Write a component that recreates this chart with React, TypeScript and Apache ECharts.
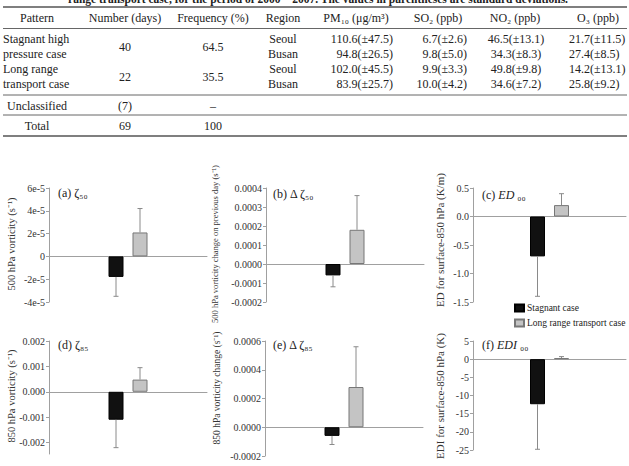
import React, { useEffect, useRef } from "react";
import * as echarts from "echarts";

const FONT = "'Liberation Serif', 'Times New Roman', serif";

const caption =
  "range transport case, for the period of 2000 ~ 2007. The values in parentheses are standard deviations.";
const tableHeaders = ["Pattern", "Number (days)", "Frequency (%)", "Region", "PM₁₀ (μg/m³)", "SO₂ (ppb)", "NO₂ (ppb)", "O₃ (ppb)"];
const patternLines = ["Stagnant high", "pressure case", "Long range", "transport case"];
const extraPatterns = ["Unclassified", "Total"];
const dayCounts = ["40", "22", "(7)", "69"];
const frequencies = ["64.5", "35.5", "–", "100"];
const regions = ["Seoul", "Busan", "Seoul", "Busan"];
const pm10Values = ["110.6(±47.5)", "94.8(±26.5)", "102.0(±45.5)", "83.9(±25.7)"];
const so2Values = ["6.7(±2.6)", "9.8(±5.0)", "9.9(±3.3)", "10.0(±4.2)"];
const no2Values = ["46.5(±13.1)", "34.3(±8.3)", "49.8(±9.8)", "34.6(±7.2)"];
const o3Values = ["21.7(±11.5)", "27.4(±8.5)", "14.2(±13.1)", "25.8(±9.2)"];

const seriesNames = ["Stagnant case", "Long range transport case"];
const panelTitles = ["(a) ζ₅₀", "(b) Δ ζ₅₀", "(c) {i|ED}{n| ₀₀}", "(d) ζ₈₅", "(e) Δ ζ₈₅", "(f) {i|EDI}{n| ₀₀}"];
const yAxisNames = [
  "500 hPa vorticity (s⁻¹)",
  "500 hPa vorticity change on previous day (s⁻¹)",
  "ED for surface-850 hPa (K/m)",
  "850 hPa vorticity (s⁻¹)",
  "850 hPa vorticity change (s⁻¹)",
  "EDI for surface-850 hPa (K)",
];
const stagnantMeans = [-1.8e-5, -0.00006, -0.7, -0.0011, -0.00006, -12.4];
const stagnantSds = [1.7e-5, 0.00006, 0.7, 0.0011, 0.00006, 12.4];
const transportMeans = [2.1e-5, 0.00018, 0.2, 0.00048, 0.00028, 0.3];
const transportSds = [2.1e-5, 0.00018, 0.2, 0.00047, 0.00028, 0.4];
const tickValuesA = [-4e-5, -2e-5, 0, 2e-5, 4e-5, 6e-5];
const tickValuesB = [-0.0002, -0.0001, 0, 0.0001, 0.0002, 0.0003, 0.0004];
const tickValuesC = [-1.5, -1.0, -0.5, 0, 0.5];
const tickValuesD = [-0.002, -0.001, 0, 0.001, 0.002];
const tickValuesE = [-0.0002, 0, 0.0002, 0.0004, 0.0006];
const tickValuesF = [-25, -20, -15, -10, -5, 0, 5];
const axisMins = [-4e-5, -0.0002, -1.5, -0.00245, -0.0002, -25];
const axisMaxs = [6e-5, 0.0004, 0.5, 0.002, 0.0006, 5];
const tickDecimals = [-1, 4, 1, 3, 4, 0];

const allTicks = [tickValuesA, tickValuesB, tickValuesC, tickValuesD, tickValuesE, tickValuesF];

function fmt(v: number, d: number): string {
  if (d < 0) {
    if (Math.abs(v) < 1e-12) return "0";
    return `${Math.round(v * 1e5)}e-5`;
  }
  return v.toFixed(d);
}

export default function App() {
  const ref = useRef<HTMLDivElement>(null);
  useEffect(() => {
    if (!ref.current) return;
    const chart = echarts.init(ref.current, undefined, { renderer: "svg" });

    const grids = [
      { left: 49, top: 188, width: 158, height: 114 },
      { left: 266, top: 188, width: 158, height: 114 },
      { left: 473, top: 188, width: 153, height: 114 },
      { left: 49, top: 341, width: 158, height: 113 },
      { left: 265, top: 341, width: 158, height: 115 },
      { left: 473, top: 341, width: 153, height: 109 },
    ];

    const xAxes = grids.map((_, i) => ({
      type: "category",
      gridIndex: i,
      data: [""],
      axisTick: { show: false },
      axisLabel: { show: false },
      axisLine: { onZero: true, lineStyle: { color: "#a0a0a0", width: 1 } },
    }));

    const yAxes = grids.map((_, i) => ({
      type: "value",
      gridIndex: i,
      min: axisMins[i],
      max: axisMaxs[i],
      splitLine: { show: false },
      axisLine: { show: true, lineStyle: { color: "#a0a0a0", width: 1 } },
      axisTick: { show: true, length: 3, lineStyle: { color: "#a0a0a0" }, customValues: allTicks[i] },
      axisLabel: {
        customValues: allTicks[i],
        formatter: (v: number) => fmt(v, tickDecimals[i]),
        fontFamily: FONT,
        fontSize: 10,
        color: "#333",
        margin: 4,
      },
    }));

    const series: any[] = [];
    grids.forEach((_, i) => {
      series.push({
        type: "bar",
        name: seriesNames[0],
        xAxisIndex: i,
        yAxisIndex: i,
        data: [stagnantMeans[i]],
        barWidth: 15,
        barGap: "60%",
        itemStyle: { color: "#111", borderColor: "#000", borderWidth: 1 },
      });
      series.push({
        type: "bar",
        name: seriesNames[1],
        xAxisIndex: i,
        yAxisIndex: i,
        data: [transportMeans[i]],
        barWidth: 15,
        barGap: "60%",
        itemStyle: { color: "#c4c4c4", borderColor: "#777", borderWidth: 1 },
      });
      series.push({
        type: "custom",
        xAxisIndex: i,
        yAxisIndex: i,
        encode: { x: 0, y: 1 },
        data: [
          [0, stagnantMeans[i], stagnantSds[i], 0],
          [0, transportMeans[i], transportSds[i], 1],
        ],
        renderItem: (params: any, api: any) => {
          const mean = api.value(1);
          const sd = api.value(2);
          const k = api.value(3);
          const p0 = api.coord([0, mean]);
          const p1 = api.coord([0, mean + Math.sign(mean) * sd]);
          const x = p0[0] + (k === 0 ? -12 : 12);
          const st = { stroke: "#8a8a8a", lineWidth: 1 };
          return {
            type: "group",
            children: [
              { type: "line", shape: { x1: x, y1: p0[1], x2: x, y2: p1[1] }, style: st },
              { type: "line", shape: { x1: x - 2.5, y1: p1[1], x2: x + 2.5, y2: p1[1] }, style: st },
            ],
          };
        },
        z: 3,
      });
    });

    const graphics: any[] = [];
    const txt = (x: number, y: number, text: string, extra: any = {}) =>
      graphics.push({
        type: "text",
        x,
        y,
        silent: true,
        style: {
          text,
          fontFamily: FONT,
          fontSize: 12,
          fill: "#222",
          align: "center",
          verticalAlign: "middle",
          ...extra,
        },
      });
    const hline = (y: number, w = 1, color = "#666") =>
      graphics.push({
        type: "line",
        silent: true,
        shape: { x1: 3, y1: y, x2: 627, y2: y },
        style: { stroke: color, lineWidth: w },
      });

    // caption (cut at top)
    txt(318, 5, caption, { verticalAlign: "bottom", fontWeight: "bold", fontSize: 11.5 });

    hline(7, 1.5, "#555");
    hline(28.5);
    hline(95);
    hline(115);
    hline(136, 1.5, "#555");

    const headerX = [37, 125, 213, 283, 356, 438, 515, 598];
    tableHeaders.forEach((h, i) => txt(headerX[i], 18, h));

    const rowY = [39, 54, 69, 84];
    patternLines.forEach((p, i) => txt(3, rowY[i], p, { align: "left" }));
    txt(37, 106, extraPatterns[0]);
    txt(37, 126, extraPatterns[1]);

    const groupY = [46.5, 76.5, 106, 126];
    dayCounts.forEach((d, i) => txt(125, groupY[i], d));
    frequencies.forEach((f, i) => txt(213, groupY[i], f));
    regions.forEach((r, i) => txt(283, rowY[i], r));
    pm10Values.forEach((v, i) => txt(393, rowY[i], v, { align: "right" }));
    so2Values.forEach((v, i) => txt(467, rowY[i], v, { align: "right" }));
    no2Values.forEach((v, i) => txt(516, rowY[i], v));
    o3Values.forEach((v, i) => txt(569, rowY[i], v, { align: "left" }));

    // panel titles
    const titlePos = [
      [58, 193],
      [273, 194],
      [482, 195],
      [58, 345],
      [273, 345],
      [482, 345],
    ];
    panelTitles.forEach((t, i) =>
      graphics.push({
        type: "text",
        x: titlePos[i][0],
        y: titlePos[i][1],
        silent: true,
        style: {
          text: t,
          fontFamily: FONT,
          fontSize: 12,
          fill: "#222",
          align: "left",
          verticalAlign: "middle",
          rich: {
            i: { fontStyle: "italic", fontFamily: FONT, fontSize: 12, fill: "#222" },
            n: { fontFamily: FONT, fontSize: 12, fill: "#222" },
          },
        },
      })
    );

    // y axis names (rotated)
    const namePos = [
      [11, 244, 10.5],
      [215, 244, 8.5],
      [440, 240, 11],
      [11, 396, 10.5],
      [217, 388, 9.5],
      [440, 396, 11],
    ];
    yAxisNames.forEach((n, i) =>
      graphics.push({
        type: "text",
        x: namePos[i][0],
        y: namePos[i][1],
        rotation: Math.PI / 2,
        silent: true,
        style: {
          text: n,
          fontFamily: FONT,
          fontSize: namePos[i][2],
          fill: "#333",
          align: "center",
          verticalAlign: "middle",
        },
      })
    );

    chart.setOption({
      animation: false,
      backgroundColor: "#fff",
      grid: grids.map((g) => ({ ...g, containLabel: false })),
      xAxis: xAxes,
      yAxis: yAxes,
      series,
      legend: {
        data: seriesNames,
        orient: "vertical",
        left: 514,
        top: 303,
        padding: 0,
        icon: "rect",
        itemWidth: 9,
        itemHeight: 7,
        itemGap: 5,
        selectedMode: false,
        textStyle: { fontFamily: FONT, fontSize: 9.5, color: "#222", padding: [0, 0, 0, -2] },
      },
      graphic: graphics,
    });
    return () => chart.dispose();
  }, []);
  return (
    <div
      ref={ref}
      style={{ position: "absolute", left: 0, top: 0, width: 629, height: 466, background: "#fff" }}
    />
  );
}
